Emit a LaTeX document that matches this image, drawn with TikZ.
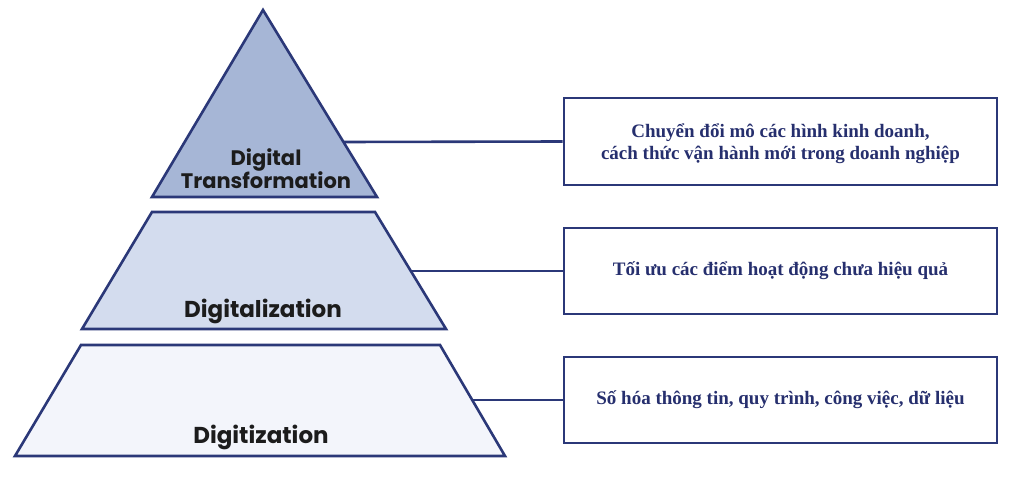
\documentclass[tikz,border=0pt]{standalone}
\usepackage{fontspec}
\setmainfont{Liberation Serif}
\newfontfamily\labfont{Poppins}
\usetikzlibrary{calc}
\definecolor{navy}{HTML}{2B3878}
\definecolor{txtnavy}{HTML}{262F6E}
\definecolor{fillA}{HTML}{A6B6D6}
\definecolor{fillB}{HTML}{D3DCEE}
\definecolor{fillC}{HTML}{F3F5FB}
\definecolor{labcol}{HTML}{1C1C1C}
\newcommand{\nolsk}{\setlength{\lineskiplimit}{-20pt}}
\tikzset{
  tier/.style={draw=navy, line width=2.6pt, line join=miter},
  descbox/.style={draw=navy, line width=2.6pt, minimum width=433pt, minimum height=87pt, inner sep=0pt, align=center, font=\bfseries\fontsize{19}{22}\selectfont, text=txtnavy},
  tierlabel/.style={font={\labfont\bfseries\fontsize{23}{18}\selectfont\nolsk}, text=labcol, align=center, inner sep=0pt},
  link/.style={draw=navy, line width=2.6pt}
}
\begin{document}
\begin{tikzpicture}[x=1pt,y=-1pt]
\useasboundingbox (0,0) rectangle (1024,476);
\fill[white] (0,0) rectangle (1024,476);
% tiers
\draw[tier, fill=fillA] (263,10) -- (377,197) -- (152,197) -- cycle;
\draw[tier, fill=fillB] (152,212) -- (375,212) -- (446,329) -- (82,329) -- cycle;
\draw[tier, fill=fillC] (81,345) -- (440,345) -- (505,456) -- (15,456) -- cycle;
% labels
\node[tierlabel, font={\labfont\bfseries\fontsize{21}{23}\selectfont\nolsk}] (l1) at (266,169) {Digital\\Transformation};
\node[tierlabel] (l2) at (263,311) {Digitalization};
\node[tierlabel] (l3) at (261,437) {Digitization};
% connector anchors
\coordinate (c1) at (343.5,142);
\coordinate (c2) at (411,271);
\coordinate (c3) at (472,400);
% boxes
\node[descbox] (b1) at (780.5,141.5) {};
\node[align=center, inner sep=0pt, font=\bfseries\fontsize{19}{22}\selectfont, text=txtnavy] (t1) at (780.5,144) {Chuyển đổi mô các hình kinh doanh,\\cách thức vận hành mới trong doanh nghiệp};
\node[descbox, minimum height=86pt] (b2) at (780.5,271) {Tối ưu các điểm hoạt động chưa hiệu quả};
\node[descbox, minimum height=86pt] (b3) at (780.5,400) {Số hóa thông tin, quy trình, công việc, dữ liệu};
% connectors
\draw[link] (c1) -- (b1.west);
\draw[link] (c2) -- (b2.west);
\draw[link] (c3) -- (b3.west);
\end{tikzpicture}
\end{document}
